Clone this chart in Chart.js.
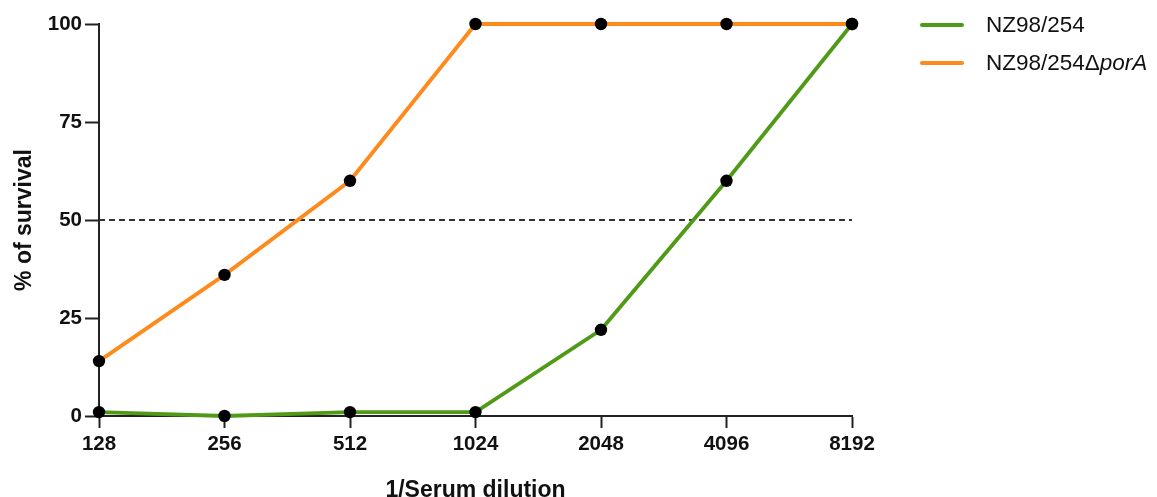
<!DOCTYPE html>
<html>
<head>
<meta charset="utf-8">
<script src="https://cdn.jsdelivr.net/npm/chart.js@4/dist/chart.umd.min.js"></script>
<style>
  html, body { margin: 0; padding: 0; background: #fff; overflow: hidden; }
  #wrap { position: relative; width: 1157px; height: 497px; overflow: hidden; }
  #chart { position: absolute; left: 0; top: 0; }
  .legend { position: absolute; left: 920px; font-family: "Liberation Sans", Arial, sans-serif; font-size: 22.5px; color: #111; }
  .legend .row { position: absolute; left: 0; white-space: nowrap; height: 30px; line-height: 30px; }
  .legend .swatch { position: absolute; left: 0; top: 13px; width: 44px; height: 4px; border-radius: 2px; }
  .legend .txt { position: absolute; left: 66px; top: 0; }
</style>
</head>
<body>
<div id="wrap">
  <canvas id="chart" width="1157" height="505"></canvas>
  <div class="legend">
    <div class="row" style="top:10px"><span class="swatch" style="background:#4f9a16"></span><span class="txt">NZ98/254</span></div>
    <div class="row" style="top:48px"><span class="swatch" style="background:#ff8a1c"></span><span class="txt">NZ98/254Δ<i>porA</i></span></div>
  </div>
</div>
<script>
// Reciprocal serum dilutions (two-fold steps)
const dilutions = ['128', '256', '512', '1024', '2048', '4096', '8192'];
// Percent survival per strain
const wildType = [1, 0, 1, 1, 22, 60, 100];
const porAMutant = [14, 36, 60, 100, 100, 100, 100];
// 50 % survival reference
const halfLine = [50, 50, 50, 50, 50, 50, 50];
const yTicks = [0, 25, 50, 75, 100];

const GREEN = '#4f9a16';
const ORANGE = '#ff8a1c';
const AXIS = '#222';
const FONT = '"Liberation Sans", Arial, sans-serif';

new Chart(document.getElementById('chart'), {
  type: 'line',
  data: {
    labels: dilutions,
    datasets: [
      {
        label: 'NZ98/254Δ porA',
        data: porAMutant,
        borderColor: ORANGE,
        borderWidth: 3.8,
        pointBackgroundColor: '#000',
        pointBorderColor: '#000',
        pointRadius: 6.2,
        pointBorderWidth: 0,
        tension: 0,
        clip: false,
        order: 2
      },
      {
        label: 'NZ98/254',
        data: wildType,
        borderColor: GREEN,
        borderWidth: 3.8,
        pointBackgroundColor: '#000',
        pointBorderColor: '#000',
        pointRadius: 6.2,
        pointBorderWidth: 0,
        tension: 0,
        clip: false,
        order: 1
      },
      {
        label: '50%',
        data: halfLine,
        borderColor: '#333',
        borderWidth: 2,
        borderDash: [6, 4],
        pointRadius: 0,
        tension: 0,
        order: 3
      }
    ]
  },
  options: {
    responsive: false,
    animation: false,
    layout: { padding: { left: 0, top: 24, right: 305, bottom: 0 } },
    plugins: { legend: { display: false }, tooltip: { enabled: false } },
    scales: {
      x: {
        type: 'category',
        offset: false,
        afterFit: s => { s.height = 89; },
        grid: { drawOnChartArea: false, drawTicks: true, tickLength: 12, tickWidth: 2, tickColor: AXIS },
        border: { color: AXIS, width: 2 },
        ticks: { color: '#111', font: { family: FONT, size: 20.5, weight: 'bold' }, padding: 4, maxRotation: 0 },
        title: { display: true, text: '1/Serum dilution', color: '#111', font: { family: FONT, size: 23, weight: 'bold' }, padding: { top: 0, bottom: 1 } }
      },
      y: {
        min: 0,
        max: 100,
        afterBuildTicks: s => { s.ticks = yTicks.map(v => ({ value: v })); },
        afterFit: s => { s.width = 99; },
        grid: { drawOnChartArea: false, drawTicks: true, tickLength: 14, tickWidth: 2, tickColor: AXIS },
        border: { color: AXIS, width: 2 },
        ticks: { color: '#111', font: { family: FONT, size: 20.5, weight: 'bold' }, padding: 3 },
        title: { display: true, text: '% of survival', color: '#111', font: { family: FONT, size: 23, weight: 'bold' }, padding: { top: 11, bottom: 0 } }
      }
    }
  }
});
</script>
</body>
</html>
